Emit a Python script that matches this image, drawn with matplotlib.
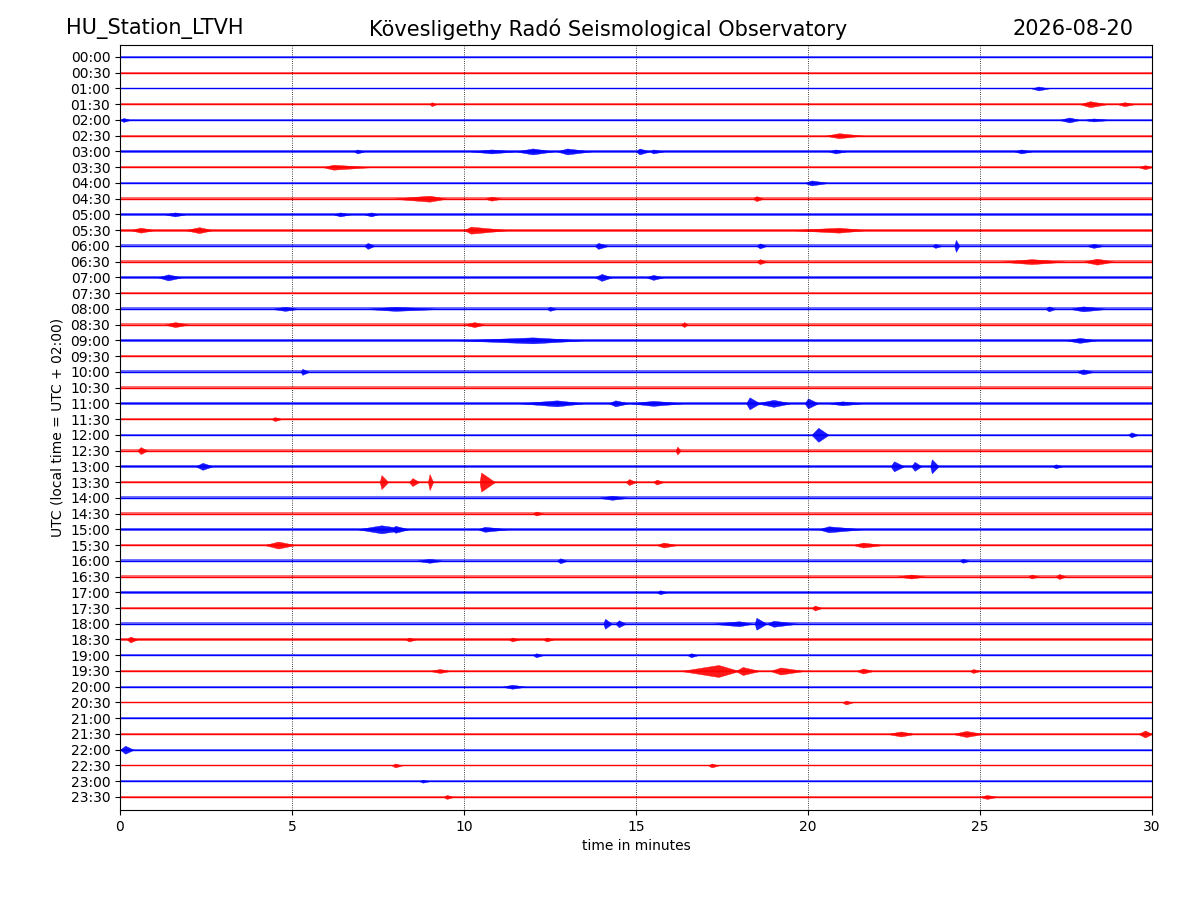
import matplotlib
matplotlib.use('Agg')
import matplotlib.pyplot as plt
import numpy as np

# row labels, one trace every 30 minutes
labels = ['%02d:%02d' % (h, m) for h in range(24) for m in (0, 30)]

# background noise half-amplitude of each trace (pixels at 100 dpi)
noise = [0.5, 0.7, 0.8, 0.7, 0.8, 0.8, 1.2, 1.0, 0.9, 1.3, 1.3, 1.5,
         1.6, 1.6, 1.5, 1.3, 1.4, 1.4, 1.4, 1.2, 1.4, 1.1, 1.6, 1.1,
         1.3, 1.3, 1.3, 1.4, 1.3, 1.3, 1.4, 1.3, 1.3, 1.3, 1.3, 1.1,
         1.3, 1.3, 1.1, 1.1, 0.9, 0.9, 0.8, 0.8, 0.9, 0.8, 0.7, 0.6]

# bursts: (row, start, peak, end [min], half-amplitude [px])
events = [
    (2, 26.5, 26.7, 27.0, 2.0),
    (3, 9.0, 9.06, 9.2, 2.0), (3, 27.9, 28.2, 28.7, 3.0), (3, 29.0, 29.2, 29.5, 2.0),
    (4, 0.0, 0.1, 0.3, 2.0), (4, 27.3, 27.6, 27.9, 2.5), (4, 28.0, 28.3, 28.8, 1.5),
    (5, 20.5, 20.9, 21.6, 2.5),
    (6, 6.8, 6.9, 7.1, 2.0), (6, 10.2, 10.8, 11.5, 2.0), (6, 11.5, 12.0, 12.6, 3.0),
    (6, 12.7, 13.0, 13.7, 3.0), (6, 15.0, 15.1, 15.4, 3.0), (6, 15.4, 15.5, 15.8, 2.0),
    (6, 20.6, 20.8, 21.1, 2.0), (6, 26.0, 26.2, 26.5, 2.0),
    (7, 5.9, 6.2, 7.3, 2.5), (7, 29.6, 29.8, 30.0, 2.0),
    (8, 19.9, 20.1, 20.6, 2.5),
    (9, 7.9, 9.0, 9.5, 3.0), (9, 10.6, 10.8, 11.1, 2.0), (9, 18.4, 18.5, 18.7, 2.5),
    (10, 1.3, 1.6, 1.9, 2.0), (10, 6.2, 6.4, 6.7, 2.0), (10, 7.1, 7.3, 7.5, 2.0),
    (11, 0.3, 0.6, 1.0, 2.5), (11, 1.9, 2.3, 2.7, 3.0), (11, 10.0, 10.2, 11.3, 3.5),
    (11, 19.5, 20.9, 21.7, 2.5),
    (12, 7.1, 7.2, 7.4, 3.0), (12, 13.8, 13.9, 14.2, 3.0), (12, 18.5, 18.6, 18.8, 2.5),
    (12, 23.6, 23.7, 23.9, 2.0), (12, 24.25, 24.3, 24.4, 6.0), (12, 28.1, 28.3, 28.6, 2.0),
    (13, 18.5, 18.6, 18.8, 2.5), (13, 25.6, 26.5, 27.5, 2.5), (13, 28.0, 28.4, 28.9, 3.0),
    (14, 1.1, 1.4, 1.8, 3.0), (14, 13.8, 14.0, 14.3, 3.5), (14, 15.3, 15.5, 15.8, 2.5),
    (16, 4.4, 4.8, 5.2, 2.0), (16, 7.1, 8.0, 9.4, 2.0), (16, 12.4, 12.5, 12.7, 2.0),
    (16, 26.9, 27.0, 27.2, 2.5), (16, 27.6, 28.0, 28.7, 2.5),
    (17, 1.3, 1.6, 2.0, 2.5), (17, 10.0, 10.3, 10.6, 2.5), (17, 16.3, 16.4, 16.5, 2.5),
    (18, 9.8, 12.0, 13.5, 3.0), (18, 27.5, 27.9, 28.4, 2.5),
    (20, 5.25, 5.3, 5.5, 3.0), (20, 27.8, 28.0, 28.3, 2.5),
    (22, 11.6, 12.7, 13.5, 3.0), (22, 14.2, 14.4, 14.8, 3.0), (22, 14.8, 15.5, 16.4, 2.5),
    (22, 18.2, 18.3, 18.6, 6.0), (22, 18.5, 19.0, 19.5, 3.5), (22, 19.9, 20.0, 20.3, 5.0),
    (22, 20.6, 21.0, 21.6, 2.0),
    (23, 4.4, 4.5, 4.7, 2.0),
    (24, 20.1, 20.3, 20.6, 7.0), (24, 29.3, 29.4, 29.6, 2.5),
    (25, 0.5, 0.6, 0.8, 3.5), (25, 16.15, 16.2, 16.3, 4.0),
    (26, 2.2, 2.4, 2.7, 3.5), (26, 22.4, 22.5, 22.8, 5.0), (26, 23.0, 23.1, 23.3, 4.5),
    (26, 23.55, 23.6, 23.8, 7.0), (26, 27.1, 27.2, 27.4, 2.0),
    (27, 7.55, 7.6, 7.8, 7.0), (27, 8.4, 8.5, 8.7, 4.0), (27, 8.95, 9.0, 9.1, 8.0),
    (27, 10.45, 10.5, 10.9, 9.5), (27, 14.7, 14.8, 15.0, 3.0), (27, 15.5, 15.6, 15.8, 2.5),
    (28, 13.9, 14.3, 14.8, 2.0),
    (29, 12.0, 12.1, 12.3, 2.0),
    (30, 6.9, 7.6, 8.4, 4.0), (30, 7.9, 8.0, 8.4, 3.5), (30, 10.4, 10.6, 11.3, 2.5),
    (30, 20.3, 20.6, 21.6, 3.0),
    (31, 4.2, 4.6, 5.1, 3.5), (31, 15.6, 15.8, 16.2, 2.5), (31, 21.3, 21.6, 22.2, 2.5),
    (32, 8.6, 9.0, 9.4, 2.0), (32, 12.7, 12.8, 13.0, 2.5), (32, 24.4, 24.5, 24.7, 2.0),
    (33, 22.6, 23.0, 23.4, 2.0), (33, 26.4, 26.5, 26.7, 2.0), (33, 27.2, 27.3, 27.5, 2.5),
    (34, 15.6, 15.7, 15.9, 2.0),
    (35, 20.1, 20.2, 20.4, 2.5),
    (36, 14.05, 14.1, 14.3, 5.0), (36, 14.4, 14.5, 14.7, 3.5), (36, 17.2, 18.0, 18.4, 2.5),
    (36, 18.45, 18.5, 18.8, 6.0), (36, 18.8, 19.0, 19.7, 3.0),
    (37, 0.2, 0.3, 0.5, 3.0), (37, 8.3, 8.4, 8.6, 2.0), (37, 11.3, 11.4, 11.6, 2.0),
    (37, 12.3, 12.4, 12.6, 2.0),
    (38, 12.0, 12.1, 12.3, 2.0), (38, 16.5, 16.6, 16.8, 2.0),
    (39, 9.0, 9.3, 9.6, 2.0), (39, 16.3, 17.4, 18.0, 6.0), (39, 17.9, 18.1, 18.6, 4.0),
    (39, 18.9, 19.2, 19.9, 3.5), (39, 21.4, 21.6, 21.9, 2.5), (39, 24.7, 24.8, 25.0, 2.0),
    (40, 11.1, 11.4, 11.8, 2.0),
    (41, 21.0, 21.1, 21.3, 2.0),
    (43, 22.3, 22.7, 23.1, 2.5), (43, 24.2, 24.6, 25.1, 3.0), (43, 29.6, 29.8, 30.0, 3.5),
    (44, 0.0, 0.15, 0.4, 4.0),
    (45, 7.9, 8.0, 8.2, 2.0), (45, 17.1, 17.2, 17.4, 2.0),
    (46, 8.7, 8.8, 9.0, 1.5),
    (47, 9.4, 9.5, 9.7, 2.0), (47, 25.0, 25.2, 25.5, 2.0),
]

row_px = 15.74          # pixels between two traces
colors = ['b', 'r']

fig = plt.figure(figsize=(12, 9), dpi=100)
ax = fig.add_axes([0.1, 0.1, 0.86, 0.85])

for i, n in enumerate(noise):
    c = colors[i % 2]
    y = -i
    h = n / row_px
    ax.fill_between([0, 30], [y - h, y - h], [y + h, y + h], color=c, alpha=0.55, lw=0)
    ax.plot([0, 30], [y, y], color=c, lw=1.0)

for row, t0, tp, t1, amp in events:
    c = colors[row % 2]
    a = amp / row_px
    ax.fill_between([t0, tp, t1], [-row, -row - a, -row], [-row, -row + a, -row],
                    color=c, lw=0.3, edgecolor=c, alpha=0.9)

ax.set_xlim(0, 30)
ax.set_ylim(-47.83, 0.76)
ax.set_yticks(-np.arange(len(labels)))
ax.set_yticklabels(labels)
ax.set_xticks([0, 5, 10, 15, 20, 25, 30])
ax.xaxis.grid(True, color='k', linestyle=':', linewidth=0.6)
ax.set_xlabel('time in minutes')
ax.set_ylabel('UTC (local time = UTC + 02:00)')

fig.text(0.055, 0.968, 'HU_Station_LTVH', fontsize=15, ha='left', va='center')
fig.text(0.507, 0.968, 'Kövesligethy Radó Seismological Observatory', fontsize=15,
         ha='center', va='center')
fig.text(0.945, 0.968, '2026-08-20', fontsize=15, ha='right', va='center')

plt.savefig('out.png', dpi=100)
